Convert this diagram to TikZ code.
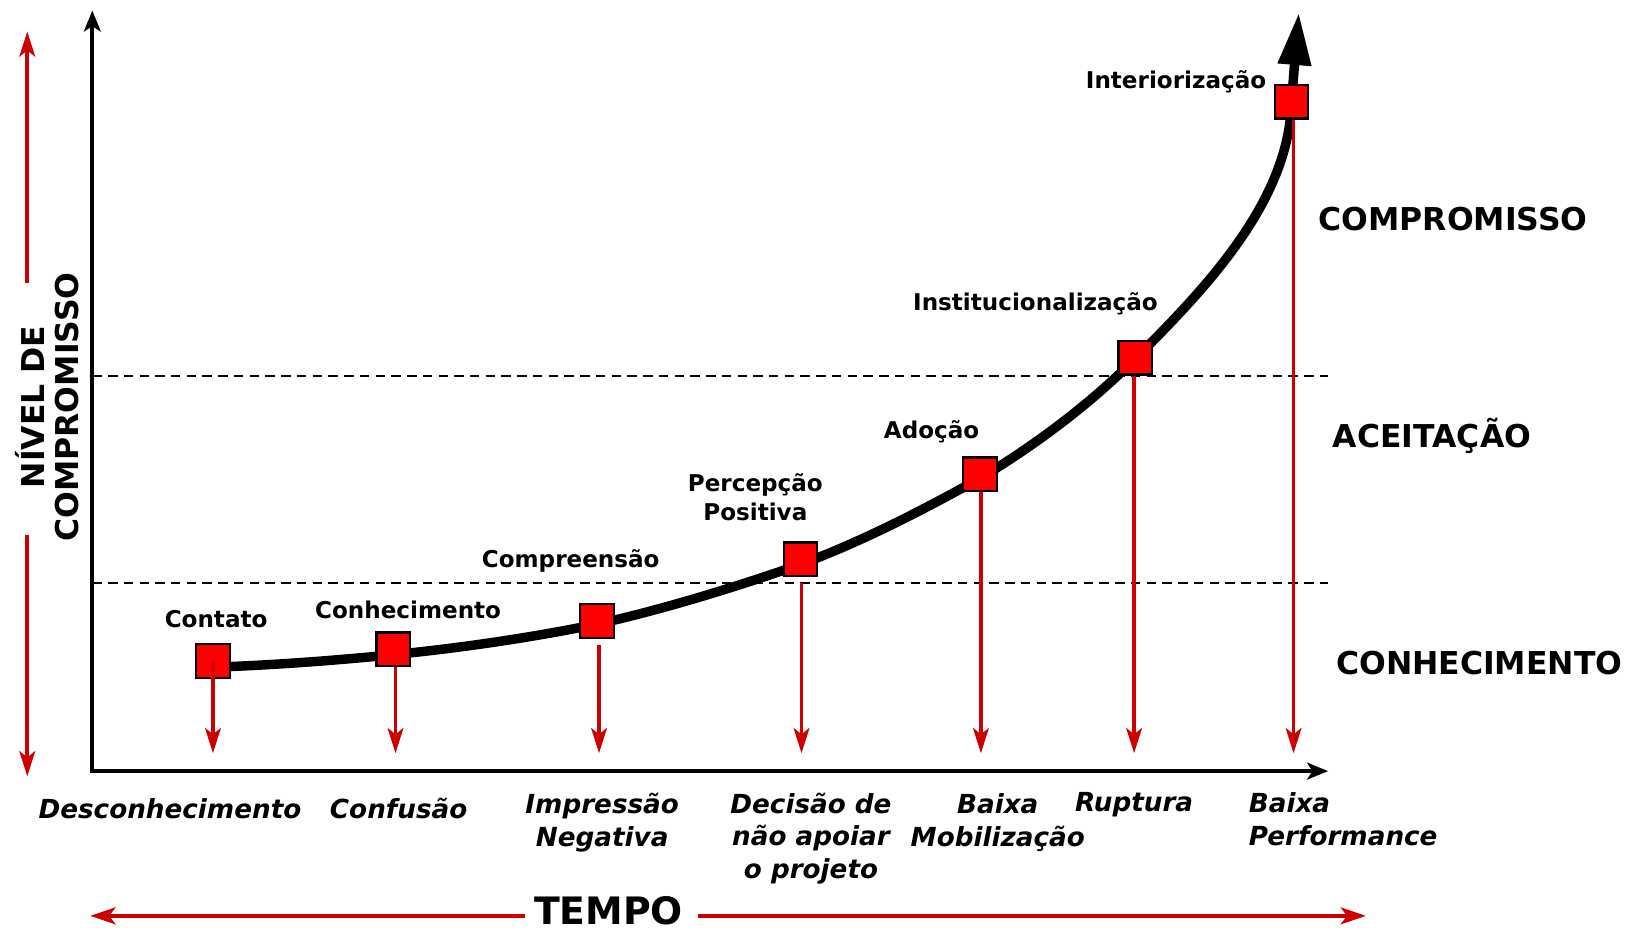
\documentclass[tikz,border=0pt]{standalone}
\usepackage{fontspec}
\setmainfont{DejaVu Sans}
\usetikzlibrary{arrows.meta}
\definecolor{arrred}{HTML}{CC0000}
\definecolor{boxred}{HTML}{FF0000}
\tikzset{
  sq/.style={draw=black, line width=1.1pt, fill=boxred, minimum size=16pt, inner sep=0pt},
  lbl/.style={font=\fontsize{11}{14}\selectfont\bfseries, align=center, inner sep=0pt},
  bot/.style={font=\fontsize{12.5}{15.5}\selectfont\bfseries\itshape, align=center, inner sep=0pt},
  zone/.style={font=\fontsize{15}{18}\selectfont\bfseries, inner sep=0pt},
  redarr/.style={draw=arrred, line width=1.8pt, -{Stealth[length=12pt,width=7.5pt,inset=3pt]}},
  bigred/.style={draw=arrred, line width=2pt, -{Stealth[length=12pt,width=8pt,inset=3pt]}},
  axis/.style={draw=black, line width=2pt, -{Stealth[length=10pt,width=8pt,inset=2.5pt]}},
  level/.style={draw=black, line width=1pt, dash pattern=on 4.5pt off 3pt},
  curve/.style={draw=black, line width=4.5pt, -{Triangle[length=25pt,width=15pt]}}
}
\begin{document}
\begin{tikzpicture}[x=0.5pt,y=-0.5pt]
\useasboundingbox (0,0) rectangle (1568,886.5);

% axes
\coordinate (origin) at (88,735);
\coordinate (ytip) at (88,10);
\coordinate (xtip) at (1266,735);
\coordinate (d1l) at (88,358);
\coordinate (d1r) at (1266,358);
\coordinate (d2l) at (88,556);
\coordinate (d2r) at (1266,556);
\draw[level] (d1l) -- (d1r);
\draw[level] (d2l) -- (d2r);
\draw[axis] ([yshift=-1pt]origin) -- (ytip);
\draw[axis] ([xshift=-1pt]origin) -- (xtip);

% curve points (square centres)
\coordinate (c1) at (203,630);
\coordinate (c2) at (375,619);
\coordinate (c3) at (569,592);
\coordinate (c4) at (763,533);
\coordinate (c5) at (934,452);
\coordinate (c6) at (1082,341);
\coordinate (c7) at (1231,97);
\coordinate (ctip) at (1238,12);
\draw[curve] (203,636) .. controls (260,634) and (318,629.7) .. (375,624)
  .. controls (440,617.5) and (505,608) .. (569,595)
  .. controls (635,580) and (700,560) .. (763,538)
  .. controls (822,516) and (880,486) .. (934,456)
  .. controls (987,424) and (1038,386) .. (1082,342)
  .. controls (1149,275) and (1229,192) .. (1231,97)
  -- (ctip);

% arrow ends
\coordinate (a1) at (203,718);
\coordinate (a2) at (377,718);
\coordinate (a3) at (571,718);
\coordinate (a4) at (764,718);
\coordinate (a5) at (935,718);
\coordinate (a6) at (1081,718);
\coordinate (a7) at (1233,718);

% squares
\node[sq] (s1) at (c1) {};
\node[sq] (s2) at (c2) {};
\node[sq] (s3) at (c3) {};
\node[sq] (s4) at (c4) {};
\node[sq] (s5) at (c5) {};
\node[sq] (s6) at (c6) {};
\node[sq] (s7) at (c7) {};

\draw[redarr] (s1.center) -- (a1);
\draw[redarr] (s2.south -| a2) -- (a2);
\draw[redarr] ([yshift=-3pt]s3.south -| a3) -- (a3);
\draw[redarr] ([yshift=-3pt]s4.south -| a4) -- (a4);
\draw[redarr] (s5.south -| a5) -- (a5);
\draw[redarr] (s6.south -| a6) -- (a6);
\draw[redarr] (s7.south -| a7) -- (a7);

% labels above squares
\node[lbl] (l1) at (206,590) {Contato};
\node[lbl] (l2) at (389,581) {Conhecimento};
\node[lbl] (l3) at (544,535) {Compreensão};
\node[lbl] (l4) at (720,474) {Percepção\\Positiva};
\node[lbl] (l5) at (888,412) {Adoção};
\node[lbl] (l6) at (987,290) {Institucionalização};
\node[lbl] (l7) at (1121,78) {Interiorização};

% bottom labels
\node[bot] (b1) at (162,771) {Desconhecimento};
\node[bot] (b2) at (380,771) {Confusão};
\node[bot] (b3) at (574,784) {Impressão\\Negativa};
\node[bot] (b4) at (773,799) {Decisão de\\não apoiar\\o projeto};
\node[bot] (b5) at (951,784) {Baixa\\Mobilização};
\node[bot] (b6) at (1081,767) {Ruptura};
\node[bot, align=left, anchor=west] (b7) at (1190,781) {Baixa\\Performance};

% zone labels
\node[zone] (z1) at (1385,209) {COMPROMISSO};
\node[zone] (z2) at (1365,416) {ACEITAÇÃO};
\node[zone] (z3) at (1410,632) {CONHECIMENTO};

% vertical axis label
\node[zone, align=center, rotate=90, font=\fontsize{15}{16}\selectfont\bfseries] (ylab) at (45,388) {NÍVEL DE\\COMPROMISSO};
\coordinate (lu) at (26,270);
\coordinate (lut) at (26,30);
\coordinate (ld) at (26,510);
\coordinate (ldt) at (26,740);
\draw[redarr] (lu) -- (lut);
\draw[redarr] (ld) -- (ldt);

% time label
\node[font=\fontsize{18}{20}\selectfont\bfseries, inner sep=0pt] (tempo) at (580,868) {TEMPO};
\coordinate (tl) at (500,873);
\coordinate (tlt) at (86,873);
\coordinate (tr) at (665,873);
\coordinate (trt) at (1302,873);
\draw[bigred] (tl) -- (tlt);
\draw[bigred] (tr) -- (trt);
\end{tikzpicture}
\end{document}
